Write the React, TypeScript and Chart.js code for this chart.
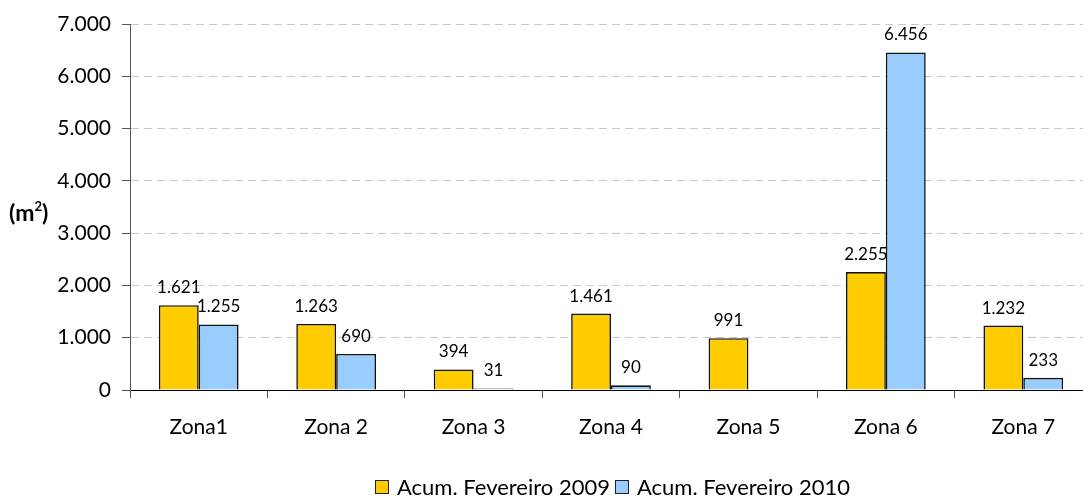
import React, { useEffect, useRef } from "react";
import { Chart, registerables } from "chart.js";

Chart.register(...registerables);

const zones = ["Zona1", "Zona 2", "Zona 3", "Zona 4", "Zona 5", "Zona 6", "Zona 7"];
const fev2009: (number | null)[] = [1621, 1263, 394, 1461, 991, 2255, 1232];
const fev2010: (number | null)[] = [1255, 690, 31, 90, null, 6456, 233];
const seriesLabels = ["Acum. Fevereiro 2009", "Acum. Fevereiro 2010"];
const seriesColors = ["#FFCC00", "#99CCFF"];
const yMax = 7000;
const yStep = 1000;
const yTitle = "(m";

const FONT = "Lato, 'Open Sans', sans-serif";

const fmt = (v: number) =>
  String(Math.round(v)).replace(/\B(?=(\d{3})+(?!\d))/g, ".");

const valueLabels = {
  id: "valueLabels",
  afterDatasetsDraw(chart: any) {
    const ctx = chart.ctx;
    ctx.save();
    ctx.font = `17px ${FONT}`;
    ctx.fillStyle = "#000";
    ctx.textAlign = "center";
    ctx.textBaseline = "alphabetic";
    chart.data.datasets.forEach((ds: any, i: number) => {
      const meta = chart.getDatasetMeta(i);
      meta.data.forEach((bar: any, j: number) => {
        const v = ds.data[j];
        if (v == null) return;
        ctx.fillText(fmt(v), bar.x, bar.y - 12);
      });
    });
    ctx.restore();
  },
};

export default function App() {
  const ref = useRef<HTMLCanvasElement>(null);

  useEffect(() => {
    if (!ref.current) return;
    const chart = new Chart(ref.current, {
      type: "bar",
      data: {
        labels: zones,
        datasets: [
          {
            label: seriesLabels[0],
            data: fev2009,
            backgroundColor: seriesColors[0],
            borderColor: "#111",
            borderWidth: 1.6,
            barPercentage: 1,
            categoryPercentage: 0.58,
          },
          {
            label: seriesLabels[1],
            data: fev2010,
            backgroundColor: seriesColors[1],
            borderColor: "#111",
            borderWidth: 1.6,
            barPercentage: 1,
            categoryPercentage: 0.58,
          },
        ],
      },
      options: {
        animation: false,
        responsive: false,
        maintainAspectRatio: false,
        layout: { padding: { top: 24, left: 0, right: 0, bottom: 0 } },
        plugins: { legend: { display: false }, tooltip: { enabled: false } },
        scales: {
          x: {
            grid: {
              display: true,
              drawOnChartArea: false,
              drawTicks: true,
              tickLength: 8,
              tickColor: "#555",
              offset: true,
            },
            border: { display: true, color: "#000", width: 1 },
            ticks: { font: { family: FONT, size: 21 }, color: "#000", padding: 17 },
            afterFit(s: any) {
              s.height = 106;
            },
          },
          y: {
            min: 0,
            max: yMax,
            ticks: {
              stepSize: yStep,
              callback: (v: any) => fmt(Number(v)),
              font: { family: FONT, size: 21 },
              color: "#000",
              padding: 11,
            },
            grid: {
              color: (c: any) => (c.tick && c.tick.value === 0 ? "rgba(0,0,0,0)" : "#c8c8c8"),
              tickLength: 8,
              tickColor: "#555",
              lineWidth: 1,
            },
            border: { display: true, color: "#555", width: 1, dash: [8, 5] },
            afterFit(s: any) {
              s.width = 130;
            },
          },
        },
      },
      plugins: [valueLabels],
    } as any);
    return () => chart.destroy();
  }, []);

  return (
    <div
      style={{
        position: "fixed",
        left: 0,
        top: 0,
        width: 1083,
        height: 496,
        overflow: "hidden",
        background: "#fff",
        fontFamily: FONT,
      }}
    >
      <canvas ref={ref} width={1092} height={496} style={{ display: "block" }} />
      <div
        style={{
          position: "absolute",
          left: 9,
          top: 198,
          fontWeight: "bold",
          fontSize: 23,
          color: "#000",
          lineHeight: "28px",
          whiteSpace: "nowrap",
        }}
      >
        {yTitle}
        <span style={{ fontSize: 13, position: "relative", top: -10 }}>2</span>)
      </div>
      <div
        style={{
          position: "absolute",
          left: 375,
          top: 475,
          display: "flex",
          alignItems: "center",
          fontSize: 22,
          color: "#000",
          lineHeight: "24px",
          whiteSpace: "nowrap",
        }}
      >
        {seriesLabels.map((l, i) => (
          <div key={l} style={{ display: "flex", alignItems: "center", marginRight: 5 }}>
            <span
              style={{
                display: "inline-block",
                width: 12,
                height: 12,
                background: seriesColors[i],
                border: "1px solid #222",
                marginRight: 8,
              }}
            />
            <span>{l}</span>
          </div>
        ))}
      </div>
    </div>
  );
}
